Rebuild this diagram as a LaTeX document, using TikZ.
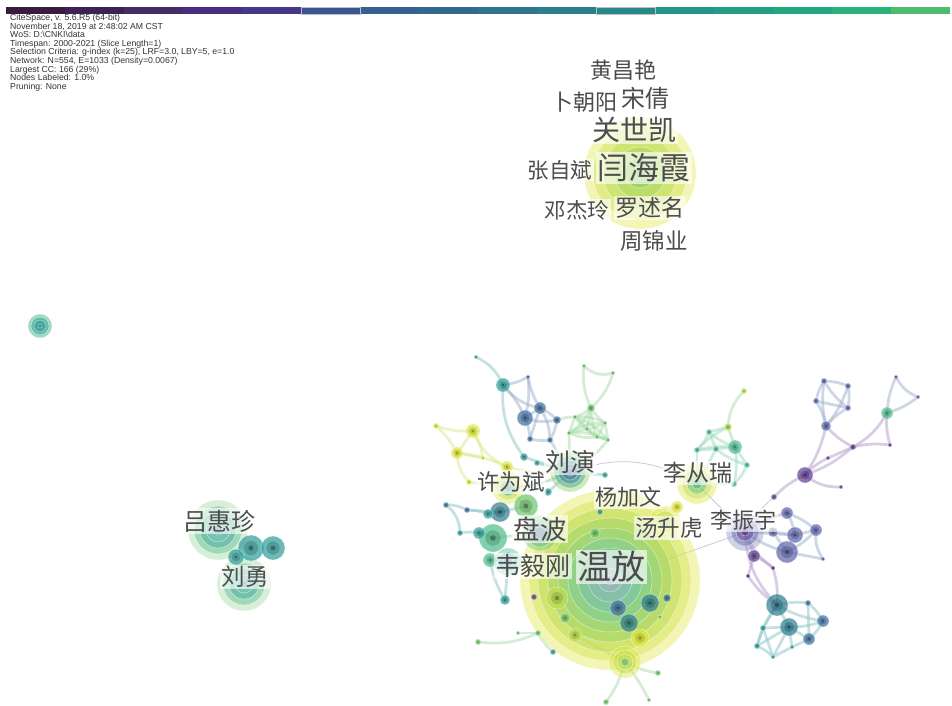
\documentclass[tikz,border=0pt]{standalone}
\usepackage{fontspec}
\setmainfont{Liberation Sans}
\newfontfamily\cjk{Noto Sans CJK SC}
\definecolor{cyel}{HTML}{DEE53A}
\definecolor{clime}{HTML}{B9DB52}
\definecolor{cgrn}{HTML}{6CC46C}
\definecolor{cmint}{HTML}{4DBB8C}
\definecolor{cteal}{HTML}{2E9C98}
\definecolor{cdteal}{HTML}{2B7A8C}
\definecolor{cblue}{HTML}{3E6C9E}
\definecolor{cpblue}{HTML}{5B62A8}
\definecolor{cpurp}{HTML}{5B3A8E}
\definecolor{cdpurp}{HTML}{4A1E6A}
\definecolor{labgray}{HTML}{4C4C4C}
\definecolor{eT}{HTML}{8EC4C6}
\definecolor{eB}{HTML}{9DB0CE}
\definecolor{eP}{HTML}{B29BC9}
\definecolor{eG}{HTML}{A9DBA9}
\definecolor{eY}{HTML}{DCE78E}
\definecolor{eM}{HTML}{9ED8C0}
\tikzset{
 ln/.style={draw=#1, line width=2.8pt, draw opacity=0.5, line cap=round},
 thinln/.style={draw=#1, line width=0.8pt, draw opacity=0.6},
 ringf/.style={fill=#1, draw=white, draw opacity=0.55, line width=0.5pt},
 lab/.style={font=\cjk\fontsize{#1}{#1}\selectfont, text=labgray, fill=white, fill opacity=0.62, text opacity=1, inner sep=1.5pt},
}
\newcommand\rings[3][0.42]{\foreach \rd/\cl in {#3}{\fill[ringf=\cl, fill opacity=#1] (#2) circle ({\rd*1pt});}}
\def\smallnodes{a1/251/548/13/cteal, a2/273/548/12/cteal, a3/236/557/8/cteal,
b1/526/506/12/cgrn, b2/500/512/10/cdteal, b3/488/514/5/cteal, b4/493/538/14/cmint, b5/479/533/6/cteal, b6/467/510/3/cblue, b7/446/505/3/cdteal, b8/460/533/3/cteal, b9/548/492/4/cteal, b10/524/457/4/cteal, b11/537/463/3/cteal, b12/605/475/3/cteal, b13/595/533/5/cgrn, b14/557/598/11/clime, b15/534/597/3/cpurp, b16/650/603/9/cdteal, b17/618/608/8/cblue, b18/629/623/9/cdteal, b19/667/598/4/cblue, b20/575/635/7/clime, b21/640/638/9/cyel, b23/565/618/5/cgrn, b24/538/633/3/cgrn, b25/553/652/3/cteal, b26/518/633/2/cgrn, b27/606/702/3/cgrn, b28/658/673/3/cgrn, b29/677/507/6/cyel, b30/600/512/3/cteal, b31/660/617/2/cgrn, b34/649/700/2/cgrn, b35/478/642/3/cgrn, b36/505/600/5/cteal, b37/490/560/7/cmint,
c1/476/357/2/cteal, c2/503/385/7/cteal, c3/528/377/2/cblue, c4/525/418/8/cblue, c5/540/408/6/cblue, c6/557/420/4/cblue, c7/530/439/3/cblue, c8/550/440/3/cblue,
g1/591/408/4/cgrn, g2/584/366/2/cgrn, g3/613/373/2/cgrn, g4/575/417/2/cgrn, g5/605/423/2/cgrn, g6/608/440/2/cgrn, g7/569/433/2/cgrn, g8/587/429/2/cgrn, g9/597/437/2/cgrn,
y1/436/426/3/cyel, y2/473/431/7/cyel, y3/457/453/6/cyel, y4/483/458/2/cyel, y5/469/482/3/cyel, y6/507/467/6/cyel,
r1/735/447/7/cmint, r2/728/427/4/clime, r3/744/391/3/clime, r4/709/432/3/cmint, r5/716/449/3/cmint, r6/697/450/3/cmint, r7/747/465/3/cmint, r8/734/484/3/cmint,
p1/805/475/8/cpurp, p2/787/513/6/cpblue, p3/795/535/8/cpblue, p4/787/552/11/cpblue, p5/816/530/6/cpblue, p6/773/532/5/cpblue, p7/823/559/2/cpblue, p8/754/556/6/cpurp, p9/773/568/2/cdpurp, p10/748/576/2/cdpurp, p11/774/497/3/cpurp, p12/841/487/2/cpurp,
t1/777/605/11/cdteal, t2/789/627/9/cdteal, t3/808/603/3/cblue, t4/823/621/6/cblue, t5/809/639/6/cblue, t6/763/628/3/cteal, t7/757/646/3/cteal, t8/773/657/2/cteal, t9/792/647/2/cteal,
u1/826/426/5/cpblue, u2/824/381/3/cpblue, u3/848/386/3/cpblue, u4/816/401/3/cpblue, u5/848/408/3/cpblue, u6/828/458/2/cpurp, u7/853/447/3/cpurp, u8/887/413/6/cmint, u9/896/377/2/cpblue, u10/918/397/2/cpblue, u11/890/445/2/cpurp}
\def\edgelist{c1/c2/eT/20, c2/c3/eB/-10, c2/c4/eB/10, c2/c5/eB/-20, c3/c4/eB/10, c3/c5/eB/-10, c4/c5/eB/0, c4/c6/eB/-15, c5/c6/eB/10, c4/c7/eB/10, c5/c7/eB/0, c6/c8/eB/10, c7/c8/eB/-10, c5/c8/eB/15, c6/g4/eG/10, c2/b10/eT/-20,
g1/g2/eG/15, g1/g3/eG/-15, g2/g3/eG/-30, g1/g4/eG/10, g1/g5/eG/-10, g1/g7/eG/15, g1/g8/eG/0, g1/g9/eG/-10, g4/g5/eG/15, g4/g7/eG/0, g4/g8/eG/10, g4/g9/eG/-10, g4/g6/eG/15, g5/g6/eG/0, g5/g8/eG/10, g5/g9/eG/0, g7/g8/eG/0, g7/g9/eG/-15, g7/g6/eG/15, g8/g9/eG/0, g8/g6/eG/-10, g9/g6/eG/0, g5/g7/eG/-15, g7/ly2/eG/0, g6/ly2/eG/10,
y1/y2/eY/-10, y1/y3/eY/10, y2/y3/eY/0, y2/y6/eY/-20, y3/y6/eY/10, y3/y4/eY/0, y2/y4/eY/10, y3/y5/eY/-20, y5/xwb/eY/0, y6/xwb/eY/10, y6/ly2/eY/-10,
b7/b6/eT/15, b6/b3/eT/10, b7/b8/eT/25, b8/b5/eT/10, b6/b2/eT/0, b5/b4/eT/0,
ly2/b10/eT/0, ly2/b11/eT/0, ly2/b9/eT/0, ly2/xwb/eT/10, xwb/b1/eY/0, b1/pb/eG/0, b1/b2/eT/0, b2/b3/eT/0, pb/wf/eG/0, b4/pb/eG/0, b37/wyg/eT/0, b36/b37/eT/10, b35/b24/eG/-15, b26/b24/eG/0, b22/b27/eG/10, b22/b28/eG/-10, b22/b34/eG/5, b20/b22/eG/0, b25/b24/eG/10, wyg/b36/eT/0, ly2/c8/eT/0, ly2/b12/eT/0,
r1/r2/eM/0, r1/r4/eM/10, r1/r5/eM/0, r1/r6/eM/-10, r1/r7/eM/0, r1/r8/eM/10, r2/r3/eG/20, r2/r4/eM/0, r4/r5/eM/0, r4/r6/eM/10, r5/r6/eM/0, r5/r7/eM/-10, r6/lcr/eM/0, r8/lcr/eM/0, r7/r8/eM/10, r2/r6/eM/-10, r5/lcr/eM/0,
p1/u1/eP/-10, p1/u6/eP/10, p1/u7/eP/-10, p1/p12/eP/-20, u6/u7/eP/0, u7/u1/eP/10, u7/u8/eP/-15, u7/u11/eP/10, u11/u8/eP/10, u8/u9/eB/10, u8/u10/eB/-10, u9/u10/eB/-20, u1/u2/eB/10, u1/u3/eB/-10, u1/u4/eB/-10, u1/u5/eB/10, u2/u3/eB/10, u2/u4/eB/-10, u3/u5/eB/10, u4/u5/eB/0, u2/u5/eB/-10, p11/p1/eP/10,
lzy/p2/eB/10, lzy/p3/eB/0, lzy/p4/eB/-10, lzy/p6/eB/0, p2/p3/eB/10, p2/p5/eB/10, p3/p5/eB/0, p4/p5/eB/-10, p5/p7/eB/-20, p4/p7/eB/0, p6/p3/eB/0, p6/p4/eB/0, lzy/p8/eP/0, lzy/p9/eP/-15, p8/p9/eP/10, p8/p10/eP/0, p10/t1/eP/-10, p9/t1/eP/10, lzy/t1/eP/-20,
t1/t2/eT/0, t1/t3/eT/10, t1/t6/eT/0, t1/t7/eT/-10, t2/t4/eT/-10, t2/t5/eT/0, t2/t6/eT/0, t2/t7/eT/0, t2/t8/eT/0, t2/t9/eT/0, t3/t4/eT/10, t4/t5/eT/10, t5/t9/eT/0, t6/t7/eT/0, t7/t8/eT/10, t8/t9/eT/0, t3/t5/eT/0, t1/t4/eT/-10, t6/t8/eT/0}
\begin{document}
\begin{tikzpicture}[x=1pt,y=-1pt]
\useasboundingbox (0,0) rectangle (952,705);
% colour bar
\foreach \hx [count=\i from 0] in {3A1A3F,3E2352,452C66,4A2C80,45388A,3B5592,36608F,326A8F,2F748F,2C7E8D,28898A,239488,229E86,22A880,27B37A,4FBB6C}{
  \edef\tmpdef{\noexpand\definecolor{barc}{HTML}{\hx}}\tmpdef
  \fill[barc] ({6+\i*59},7) rectangle ({6+(\i+1)*59},14);
}
\draw[gray!50, line width=0.6pt] (301,7) rectangle (360,14);
\draw[gray!50, line width=0.6pt] (596,7) rectangle (655,14);
% header
\node[anchor=north west, align=left, font=\fontsize{8.7}{8.6}\selectfont, inner sep=0pt, text=black!80] (hdr) at (10,14) {CiteSpace, v. 5.6.R5 (64-bit)\\November 18, 2019 at 2:48:02 AM CST\\WoS: D:\textbackslash CNKI\textbackslash data\\Timespan: 2000-2021 (Slice Length=1)\\Selection Criteria: g-index (k=25), LRF=3.0, LBY=5, e=1.0\\Network: N=554, E=1033 (Density=0.0067)\\Largest CC: 166 (29\%)\\Nodes Labeled: 1.0\%\\Pruning: None};
% coordinates
\coordinate (gsk) at (640,173);
\coordinate (wf) at (610,580);
\coordinate (ly2) at (570,472);
\coordinate (xwb) at (508,488);
\coordinate (pb) at (540,533);
\coordinate (wyg) at (508,562);
\coordinate (lcr) at (697,484);
\coordinate (tsh) at (665,522);
\coordinate (yjw) at (633,500);
\coordinate (lzy) at (745,532);
\coordinate (lhz) at (218,530);
\coordinate (lyo) at (244,584);
\coordinate (lone) at (40,326);
\coordinate (b22) at (625,662);
\foreach \nm/\x/\y/\rd/\cl in \smallnodes {\coordinate (\nm) at (\x,\y);}
% edges
\draw[thinln=eP] (ly2) to[bend left=25] (lcr);
\draw[thinln=eP] (lcr) -- (lzy);
\draw[thinln=eP] (lzy) to[bend left=10] (p11);
\draw[thinln=eP] (wf) -- (lzy);
\foreach \ea/\eb/\ec/\bd in \edgelist {\draw[ln=\ec] (\ea) to[bend left=\bd] (\eb);}
% big nodes
\rings[0.38]{wf}{90/cyel, 81/cyel!85!cgrn, 72/cyel!60!cgrn, 62/cgrn!70!cyel, 52/cgrn!80!white, 42/cmint!80!white, 32/cteal!70!white, 22/cblue!50!cteal!60!white, 12/cpblue!50!white, 5/cpurp!60!white}
\rings[0.38]{gsk}{56/cyel, 47/cyel!80!cgrn, 37/cyel!60!cgrn, 26/clime!60!cgrn, 15/cgrn, 6/cgrn!80!cmint}
\rings[0.4]{lhz}{30/cgrn!70!white, 24/cmint, 18/cteal, 12/cteal!60!white, 5/cdteal}
\rings[0.4]{lyo}{27/cgrn!70!white, 21/cmint, 15/cteal, 9/cteal!60!white, 4/cdteal}
\rings[0.55]{lone}{12/cmint, 9/cteal!70!cmint, 6/cteal, 2/cblue}
\rings{ly2}{20/cgrn!70!cyel, 16/cteal, 12/cdteal, 8/cblue, 4/cpblue}
\rings{xwb}{16/cyel, 12/clime, 8/cteal, 4/cblue}
\rings{pb}{18/cgrn, 14/cmint, 10/cblue, 6/cpblue}
\rings{wyg}{14/cmint, 10/cteal, 5/cblue}
\rings{lcr}{20/cyel, 15/clime, 10/cmint, 5/cteal}
\rings{tsh}{16/cyel, 11/cyel!70!cgrn, 6/cgrn}
\rings{yjw}{11/cyel, 6/clime}
\rings{lzy}{19/cpblue!70!white, 14/cpblue, 9/cpurp, 4/cdpurp}
\rings{b22}{16/cyel, 12/cyel!70!cgrn, 8/clime, 4/cteal}
\foreach \nm/\x/\y/\rd/\cl in \smallnodes {
  \fill[fill=\cl, fill opacity=0.7, draw=white, draw opacity=0.6, line width=0.4pt] (\nm) circle ({\rd*1pt});
  \fill[fill=\cl!65!black, fill opacity=0.35] (\nm) circle ({\rd*0.55pt});
  \fill[fill=\cl!40!black, fill opacity=0.5] (\nm) circle ({\rd*0.2pt});
}
% labels
\node[lab=22] (l1) at (623,70) {黄昌艳};
\node[lab=22] (l2) at (584,102) {卜朝阳};
\node[lab=24] (l3) at (645,98) {宋倩};
\node[lab=28] (l4) at (634,130) {关世凯};
\node[lab=21.5] (l5) at (560,170) {张自斌};
\node[lab=31] (l6) at (644,168) {闫海霞};
\node[lab=21.5] (l7) at (577,210) {邓杰玲};
\node[lab=23] (l8) at (650,208) {罗述名};
\node[lab=22.5] (l9) at (654,241) {周锦业};
\node[lab=25] (l10) at (570,462) {刘演};
\node[lab=22.5] (l11) at (511,482) {许为斌};
\node[lab=23] (l12) at (698,473) {李从瑞};
\node[lab=22] (l13) at (628,497) {杨加文};
\node[lab=26.5] (l14) at (540,529) {盘波};
\node[lab=22.5] (l15) at (669,528) {汤升虎};
\node[lab=22] (l16) at (743,520) {李振宇};
\node[lab=25] (l17) at (533,566) {韦毅刚};
\node[lab=34] (l18) at (611,567) {温放};
\node[lab=24] (l19) at (219,521) {吕惠珍};
\node[lab=23.5] (l20) at (245,577) {刘勇};
\end{tikzpicture}
\end{document}
